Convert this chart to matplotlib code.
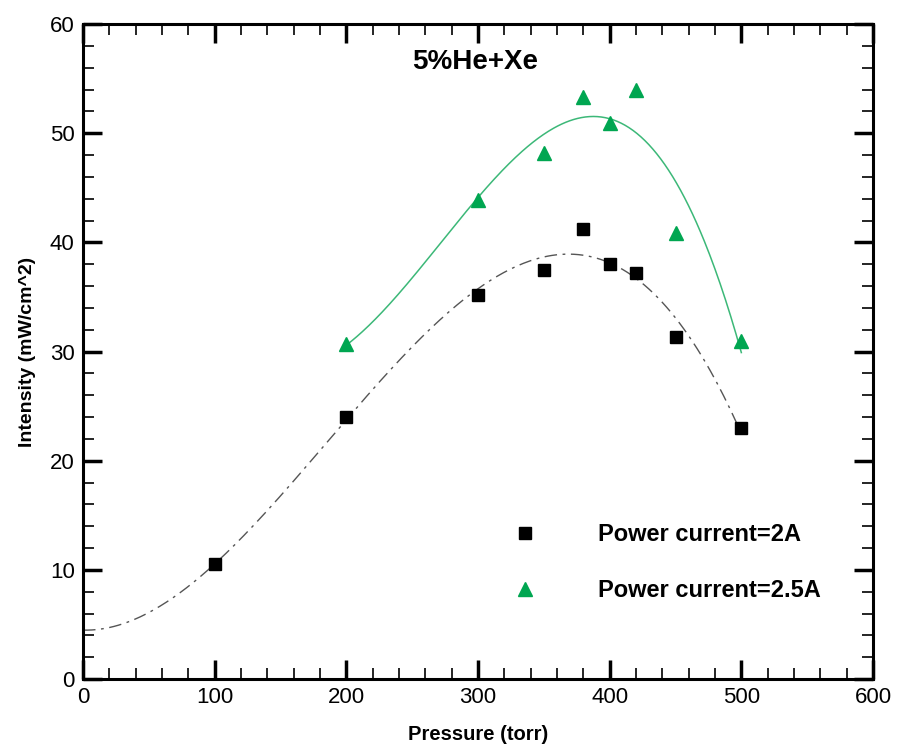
import numpy as np
import matplotlib.pyplot as plt
from matplotlib.ticker import MultipleLocator

# datos
pressure_2a = [100, 200, 300, 350, 380, 400, 420, 450, 500]
intensity_2a = [10.5, 24.0, 35.2, 37.5, 41.2, 38.0, 37.2, 31.3, 23.0]

pressure_25a = [200, 300, 350, 380, 400, 420, 450, 500]
intensity_25a = [30.7, 43.9, 48.2, 53.3, 50.9, 54.0, 40.9, 31.0]

plt.rcParams['font.family'] = ['Liberation Sans', 'DejaVu Sans']

fig = plt.figure(figsize=(8.98, 7.49), dpi=100)
ax = fig.add_axes([83 / 898, 70 / 749, 790 / 898, 655 / 749])

# curvas de ajuste (polinomio cubico sobre los datos)
c1 = np.polyfit(pressure_2a, intensity_2a, 3)
xf1 = np.linspace(0, 500, 300)
ax.plot(xf1, np.polyval(c1, xf1), color='#555555', lw=1.0,
        dashes=(9, 4, 2, 4))

c2 = np.polyfit(pressure_25a, intensity_25a, 3)
xf2 = np.linspace(200, 500, 300)
ax.plot(xf2, np.polyval(c2, xf2), color='#3cb878', lw=1.1)

ax.plot(pressure_2a, intensity_2a, 's', color='black', ms=9,
        label='Power current=2A')
ax.plot(pressure_25a, intensity_25a, '^', color='#00a651', ms=10,
        label='Power current=2.5A')

ax.set_xlim(0, 600)
ax.set_ylim(0, 60)
ax.xaxis.set_major_locator(MultipleLocator(100))
ax.xaxis.set_minor_locator(MultipleLocator(20))
ax.yaxis.set_major_locator(MultipleLocator(10))
ax.yaxis.set_minor_locator(MultipleLocator(2))
ax.tick_params(which='both', direction='in', top=True, right=True,
               labeltop=False, labelright=False, labelsize=16, width=2)
ax.tick_params(which='major', length=14, width=2.5, pad=6)
ax.tick_params(which='minor', length=8, width=1.2)
for s in ax.spines.values():
    s.set_linewidth(2.2)

ax.set_xlabel('Pressure (torr)', fontsize=14.5, fontweight='bold', labelpad=12)
ax.set_ylabel('Intensity (mW/cm^2)', fontsize=14, fontweight='bold', labelpad=10)
ax.text(298, 56.5, '5%He+Xe', fontsize=20, fontweight='bold', ha='center', va='center')

ax.legend(loc='lower left', bbox_to_anchor=(0.518, 0.085), frameon=False,
          prop={'size': 17, 'weight': 'bold'}, handletextpad=2.6,
          labelspacing=1.4, handlelength=1.0)

fig.savefig('out.png', dpi=100)
